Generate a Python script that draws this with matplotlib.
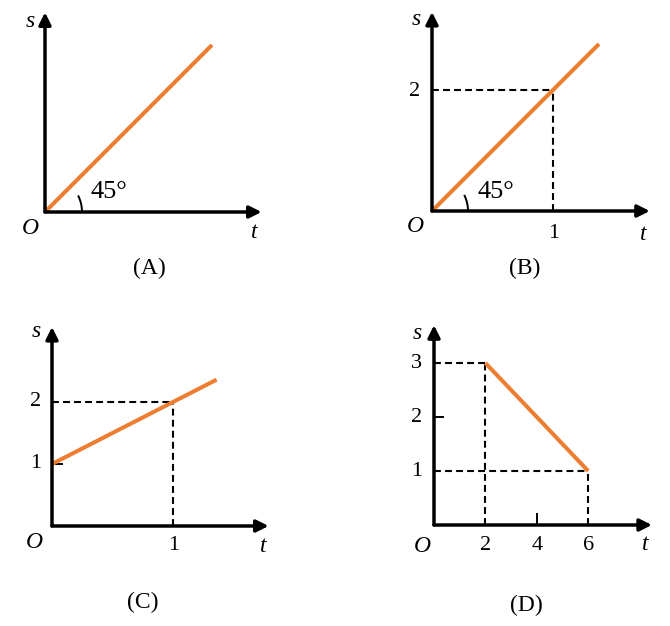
import matplotlib.pyplot as plt
from matplotlib.patches import Arc

# figure size in pixels
W, H = 670, 626

# line data for each panel (t, s)
t_a = [0, 1.38]
s_a = [0, 2.76]
t_b = [0, 1.38]
s_b = [0, 2.76]
t_c = [0, 1.36]
s_c = [1, 2.36]
t_d = [2, 6]
s_d = [3, 1]

# tick values
b_ticks_t = [1]
b_ticks_s = [2]
c_ticks_t = [1]
c_ticks_s = [1, 2]
d_ticks_t = [2, 4, 6]
d_ticks_s = [1, 2, 3]

captions = ["(A)", "(B)", "(C)", "(D)"]

ORANGE = "#ED7D31"
SERIF = "Liberation Serif"

fig = plt.figure(figsize=(W / 100, H / 100), dpi=100)


def panel(box, origin, sx, sy):
    x0, y0, x1, y1 = box
    ox, oy = origin
    ax = fig.add_axes([x0 / W, 1 - y1 / H, (x1 - x0) / W, (y1 - y0) / H])
    ax.set_xlim((x0 - ox) / sx, (x1 - ox) / sx)
    ax.set_ylim((oy - y1) / sy, (oy - y0) / sy)
    ax.axis("off")
    return ax


def axes_arrows(ax, t_tip, s_tip):
    props = dict(arrowstyle="-|>,head_length=0.6,head_width=0.3", lw=2.5,
                 color="black", shrinkA=0, shrinkB=0, mutation_scale=12)
    ax.annotate("", xy=(t_tip, 0), xytext=(0, 0), arrowprops=props)
    ax.annotate("", xy=(0, s_tip), xytext=(0, 0), arrowprops=props)


def label(ax, txt, xy, off, size=16, italic=False):
    ax.annotate(txt, xy=xy, xytext=off, textcoords="offset pixels",
                ha="center", va="center", fontsize=size, family=SERIF,
                style="italic" if italic else "normal")


def names(ax, t_tip, s_tip, s_off, o_off, t_off):
    label(ax, "s", (0, s_tip), s_off, 17, True)
    label(ax, "O", (0, 0), o_off, 17, True)
    label(ax, "t", (t_tip, 0), t_off, 17, True)


def dash(ax, x, y):
    ax.plot(x, y, color="black", lw=1.5, dashes=(3.3, 2.0), solid_capstyle="butt")


# ---- (A)
sx, sy = 121, 60.5
ax = panel((0, 0, 335, 300), (45, 212), sx, sy)
axes_arrows(ax, 1.79, 3.3)
ax.plot(t_a, s_a, color=ORANGE, lw=2.9, solid_capstyle="butt")
ax.add_patch(Arc((0, 0), 2 * 37 / sx, 2 * 37 / sy, theta1=0, theta2=45, lw=1.4, color="black"))
label(ax, "45°", (0, 0), (64, 20), 19)
names(ax, 1.79, 3.3, (-15, -9), (-15, -16), (-7, -21))
label(ax, captions[0], (0, 0), (104, -56), 17)

# ---- (B)
ax = panel((335, 0, 670, 300), (432, 211), sx, sy)
dash(ax, [0, b_ticks_t[0]], [b_ticks_s[0], b_ticks_s[0]])
dash(ax, [b_ticks_t[0], b_ticks_t[0]], [0, b_ticks_s[0]])
axes_arrows(ax, 1.80, 3.29)
ax.plot(t_b, s_b, color=ORANGE, lw=2.9, solid_capstyle="butt")
ax.add_patch(Arc((0, 0), 2 * 36 / sx, 2 * 36 / sy, theta1=0, theta2=45, lw=1.4, color="black"))
label(ax, "45°", (0, 0), (64, 19), 19)
for v in b_ticks_s:
    label(ax, str(v), (0, v), (-17.5, -1))
for v in b_ticks_t:
    label(ax, str(v), (v, 0), (1, -23))
names(ax, 1.80, 3.29, (-15.5, -8), (-17, -16), (-7, -23))
label(ax, captions[1], (0, 0), (93, -57), 17)

# ---- (C)
sx, sy = 121, 62
ax = panel((0, 300, 335, 626), (52, 526), sx, sy)
dash(ax, [0, c_ticks_t[0]], [2, 2])
dash(ax, [c_ticks_t[0], c_ticks_t[0]], [0, 2])
axes_arrows(ax, 1.79, 3.21)
ax.plot([0, 10 / sx], [1, 1], color="black", lw=1.4)
ax.plot(t_c, s_c, color=ORANGE, lw=2.9, solid_capstyle="butt")
for v in c_ticks_s:
    label(ax, str(v), (0, v), (-16.5, 0))
for v in c_ticks_t:
    label(ax, str(v), (v, 0), (1, -20))
names(ax, 1.79, 3.21, (-16, -5), (-17.5, -16), (-5.5, -20))
label(ax, captions[2], (0, 0), (91, -76), 17)

# ---- (D)
sx, sy = 25.7, 54
ax = panel((335, 300, 670, 626), (434, 525), sx, sy)
dash(ax, [0, 2], [3, 3])
dash(ax, [2, 2], [0, 3])
dash(ax, [0, 6], [1, 1])
dash(ax, [6, 6], [0, 1])
axes_arrows(ax, 8.48, 3.7)
ax.plot([0, 9 / sx], [2, 2], color="black", lw=1.4)
ax.plot([4, 4], [0, 11 / sy], color="black", lw=1.4)
ax.plot(t_d, s_d, color=ORANGE, lw=2.9, solid_capstyle="butt")
for v in d_ticks_s:
    label(ax, str(v), (0, v), (-17.5, 0))
for v in d_ticks_t:
    label(ax, str(v), (v, 0), (0, -20.5))
names(ax, 8.48, 3.7, (-17, -8), (-12, -21), (-7, -19))
label(ax, captions[3], (0, 0), (92, -80), 17)

fig.savefig("out.png", dpi=100)
